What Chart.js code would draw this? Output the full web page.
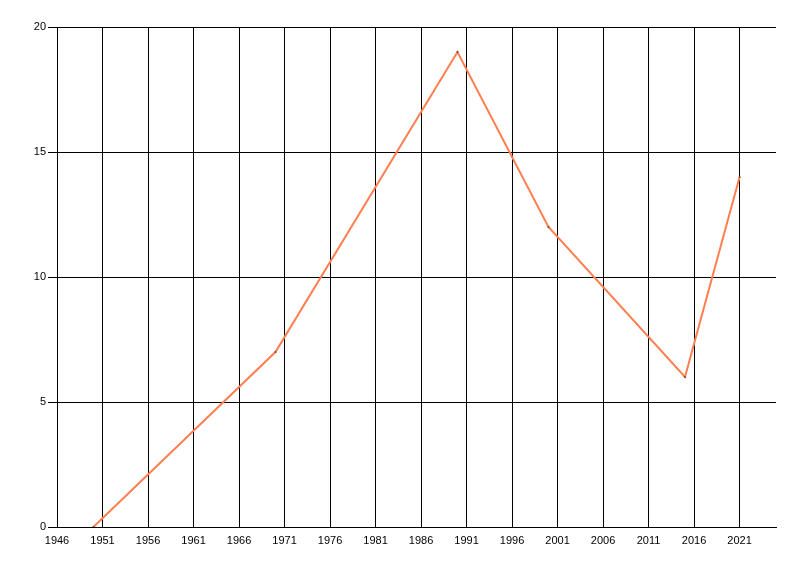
<!DOCTYPE html>
<html>
<head>
<meta charset="utf-8">
<script src="https://cdn.jsdelivr.net/npm/chart.js@4"></script>
<style>
  html, body { margin: 0; padding: 0; background: #fff; }
  #wrap { width: 800px; height: 576px; }
</style>
</head>
<body>
<div id="wrap"><canvas id="lineChart" width="800" height="576"></canvas></div>
<script>
// data
const years = [1950, 1970, 1990, 2000, 2015, 2021];
const values = [0, 7, 19, 12, 6, 14];
const xTicks = [1946, 1951, 1956, 1961, 1966, 1971, 1976, 1981, 1986, 1991, 1996, 2001, 2006, 2011, 2016, 2021];
const yTicks = [0, 5, 10, 15, 20];

function createLineChart() {
  const ctx = document.getElementById('lineChart').getContext('2d');
  new Chart(ctx, {
    type: 'line',
    data: {
      datasets: [{
        data: years.map((y, i) => ({ x: y, y: values[i] })),
        borderColor: '#FF7F50',
        borderWidth: 2,
        pointRadius: 1,
        pointBorderWidth: 0,
        pointBackgroundColor: '#6b4a3a',
        tension: 0
      }]
    },
    options: {
      responsive: false,
      animation: false,
      layout: { padding: { top: 27, right: 24, left: 0, bottom: 0 } },
      plugins: { legend: { display: false }, tooltip: { enabled: false } },
      scales: {
        x: {
          type: 'linear',
          min: 1946,
          max: 2025,
          afterBuildTicks: (scale) => { scale.ticks = xTicks.map(v => ({ value: v })); },
          afterFit: (scale) => { scale.height = 49; },
          grid: { color: '#000', lineWidth: 1, drawTicks: false },
          border: { color: '#000', width: 1 },
          ticks: {
            color: '#000',
            padding: 7,
            maxRotation: 0,
            autoSkip: false,
            font: { family: 'Liberation Sans', size: 11 },
            callback: (v) => String(v)
          }
        },
        y: {
          min: 0,
          max: 20,
          afterBuildTicks: (scale) => { scale.ticks = yTicks.map(v => ({ value: v })); },
          afterFit: (scale) => { scale.width = 57; },
          grid: { color: '#000', lineWidth: 1, tickLength: 9 },
          border: { color: '#000', width: 1 },
          ticks: {
            color: '#000',
            padding: 2,
            font: { family: 'Liberation Sans', size: 11 }
          }
        }
      }
    }
  });
}

createLineChart();
</script>
</body>
</html>
